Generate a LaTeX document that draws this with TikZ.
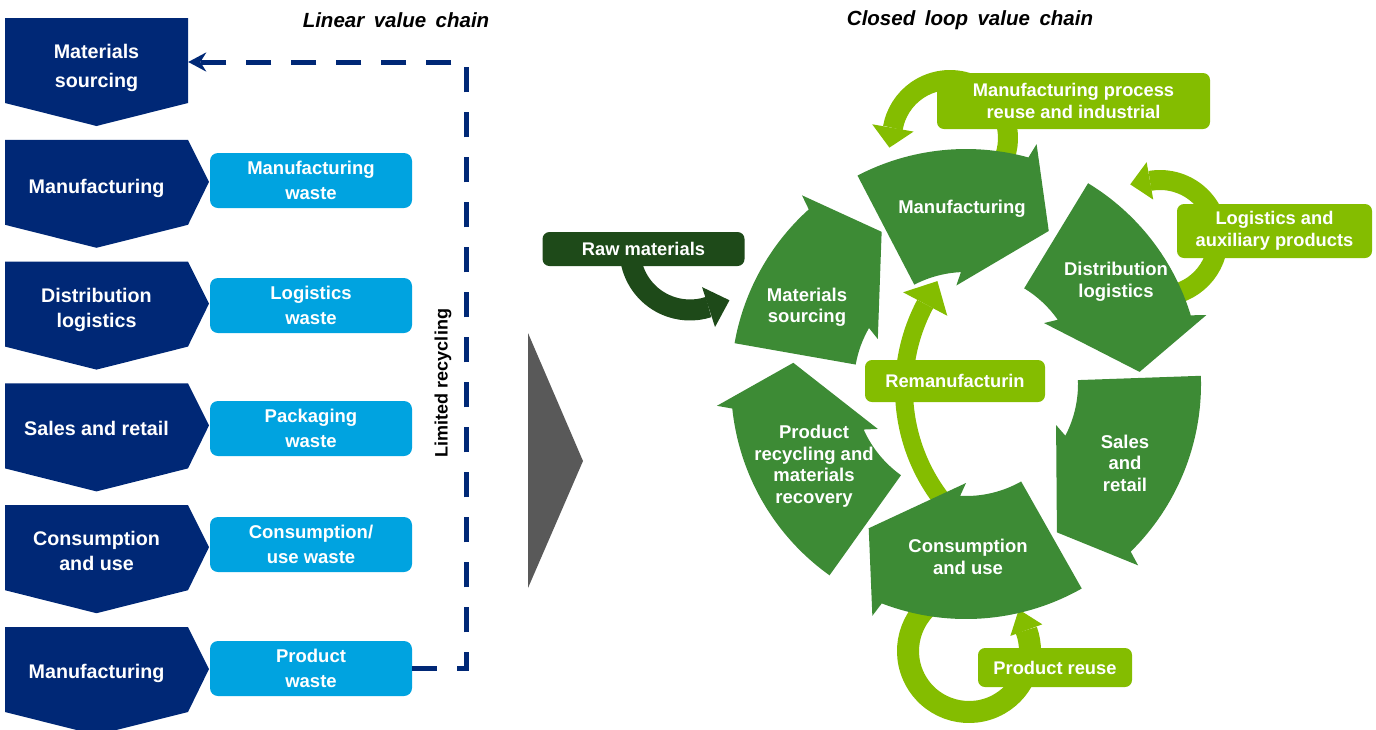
\documentclass[tikz,border=0pt]{standalone}
\usepackage{fontspec}
\setmainfont{Liberation Sans}
\usetikzlibrary{arrows.meta}
\definecolor{navy}{RGB}{0,40,118}
\definecolor{skyblue}{RGB}{0,163,224}
\definecolor{leaf}{RGB}{61,139,53}
\definecolor{lime}{RGB}{132,189,0}
\definecolor{forest}{RGB}{30,74,25}
\definecolor{slate}{RGB}{89,89,89}
\begin{document}
\begin{tikzpicture}[x=1pt,y=-1pt,line join=round,
    chevtext/.style={text=white,font=\fontsize{19.7}{25}\selectfont\bfseries,align=center,inner sep=0pt,minimum width=183pt},
    wastebox/.style={fill=skyblue,rounded corners=8pt,minimum width=202pt,minimum height=55pt,inner sep=0pt,text=white,font=\fontsize{18.5}{25}\selectfont\bfseries,align=center},
    segtext/.style={text=white,font=\fontsize{18.5}{21.5}\selectfont\bfseries,align=center,inner sep=0pt},
    limebox/.style={fill=lime,rounded corners=7pt,inner sep=0pt,text=white,font=\fontsize{18.3}{22}\selectfont\bfseries,align=center},
    heading/.style={font=\fontsize{20.5}{24}\selectfont\bfseries\itshape,inner sep=0pt},
    recycle/.style={draw=navy,line width=5pt,line join=miter,dash pattern=on 25pt off 20pt,-{Stealth[length=18pt,width=19pt]}}]
  \def\Ro{235} \def\Ri{112}
  \def\cseg#1#2{\fill[leaf] (#1:\Ro) arc[start angle=#1,end angle=#2+13,radius=\Ro] -- (#2+12:250) -- (#2:174) -- (#2+34:99) -- (#2+31:\Ri) arc[start angle=#2+31,end angle=#1,radius=\Ri] -- cycle;}
  \def\swirl#1#2#3#4#5#6#7#8{\begin{scope}[shift={#1},y=1pt]
      \pgfmathsetmacro\swsgn{#4>#3 ? 1 : -1}
      \draw[line width=#5,draw=#8] (#3:#2) arc[start angle=#3,end angle=#4,radius=#2];
      \fill[#8] (#4:#2-#6) -- ([shift={(#4+90*\swsgn:#7)}]#4:#2) -- (#4:#2+#6) -- cycle;
    \end{scope}}
  \useasboundingbox (0,0) rectangle (1376,729);

  \foreach \i/\txt/\ty in {0/{Materials\\[4pt]sourcing}/67.6,1/Manufacturing/188,2/{Distribution\\logistics}/309.6,
      3/{Sales and retail}/428,4/{Consumption\\and use}/550.5,5/Manufacturing/673}{
    \pgfmathsetmacro\ctop{18+121.8*\i}
    \pgfmathsetmacro\ctip{\i>0 ? 209 : 188}
    \fill[navy] (5,\ctop) -- (188,\ctop) -- (\ctip,\ctop+42) -- (188,\ctop+85) -- (96.5,\ctop+108) -- (5,\ctop+85) -- cycle;
    \node[chevtext] (lin\i) at (96.5,\ty) {\txt};
  }
  \foreach \i/\ty/\txt in {1/180.5/{Manufacturing\\waste},2/305.5/{Logistics\\waste},3/428.5/{Packaging\\waste},
      4/544.5/{Consumption/\\use waste},5/668.5/{Product\\waste}}
    \node[wastebox] (wst\i) at (311,\ty) {\txt};

  \coordinate (rcy) at (466,62);
  \draw[recycle] (wst5.east) -| (rcy) -- (lin0.east |- rcy);
  \node[rotate=90,inner sep=0pt,font=\fontsize{18}{20}\selectfont\bfseries] (lim) at (443,383) {Limited recycling};

  \node[heading] (lvc) at (396,20.5) {Linear\hspace{9.5pt}value\hspace{9.5pt}chain};
  \node[heading] (cvc) at (970,20.5) {Closed\hspace{9.5pt}loop\hspace{9.5pt}value\hspace{9.5pt}chain};

  \fill[slate] (528,333) -- (583,461) -- (528,588) -- cycle;

  \swirl{(950,138)}{58}{-25}{170}{20pt}{21}{20}{lime}
  \swirl{(1160,238)}{58}{-100}{100}{20pt}{19}{20}{lime}
  \swirl{(1085,389)}{181}{222}{152}{18pt}{25}{26}{lime}
  \swirl{(969,651)}{61}{120}{380}{22pt}{17}{22}{lime}
  \swirl{(690,250)}{60}{185}{288}{21pt}{21}{22}{forest}

  \begin{scope}[shift={(966,384)},y=1pt]
    \cseg{117.5}{61.6}
    \cseg{58.7}{4}
    \cseg{2}{-58.5}
    \cseg{-60.5}{-124}
    \cseg{234.5}{173}
    \cseg{170}{119}
  \end{scope}

  \node[segtext] (mfg) at (962,209) {Manufacturing};
  \node[segtext] (dist) at (1116,282) {Distribution\\logistics};
  \node[segtext] (sales) at (1125,463) {Sales\\and\\retail};
  \node[segtext] (cons) at (968,557) {Consumption\\and use};
  \node[segtext] (recy) at (814,466) {Product\\recycling and\\materials\\recovery};
  \node[segtext] (msrc) at (807,307) {Materials\\sourcing};

  \node[limebox,minimum width=273pt,minimum height=56pt] (mpr) at (1073.5,101) {Manufacturing process\\reuse and industrial};
  \node[limebox,minimum width=195pt,minimum height=54pt] (lap) at (1274.5,231) {Logistics and\\auxiliary products};
  \node[limebox,minimum width=180pt,minimum height=42pt] (rem) at (955,381) {Remanufacturin};
  \node[limebox,minimum width=154pt,minimum height=39pt] (pru) at (1055,667.5) {Product reuse};
  \node[limebox,fill=forest,minimum width=202pt,minimum height=34pt] (raw) at (643.5,249) {Raw materials};
\end{tikzpicture}
\end{document}
